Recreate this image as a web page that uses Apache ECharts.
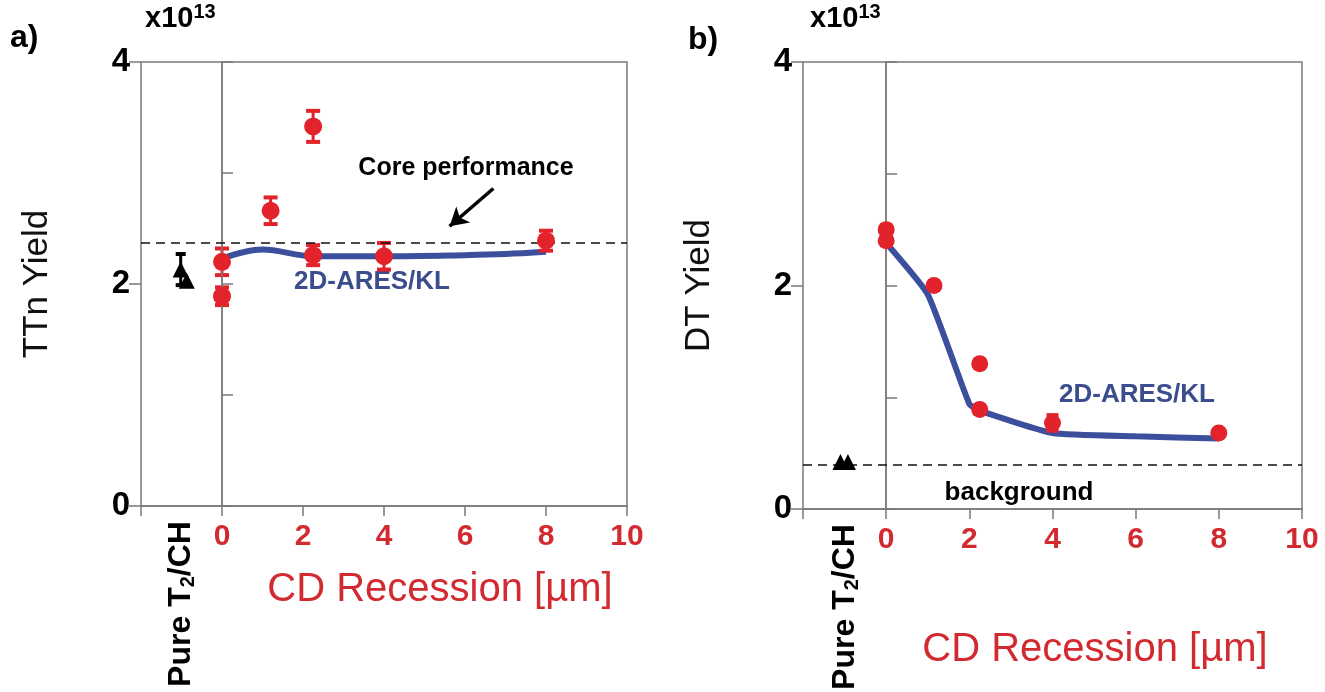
<!DOCTYPE html>
<html>
<head>
<meta charset="utf-8">
<script src="https://cdn.jsdelivr.net/npm/echarts@6/dist/echarts.min.js"></script>
<style>html,body{margin:0;padding:0;background:#fff}#c{width:1325px;height:692px}</style>
</head>
<body>
<div id="c"></div>
<script>
// ---------- data (yields in units of 1e13) ----------
const xTicks = [-2, 0, 2, 4, 6, 8, 10];
const yTicks = [0, 1, 2, 3, 4];

// panel a: TTn yield
const aRedX   = [0, 0, 1.2, 2.25, 2.25, 4, 8];
const aRedY   = [2.20, 1.89, 2.66, 3.42, 2.26, 2.25, 2.39];
const aRedErr = [0.12, 0.08, 0.12, 0.14, 0.09, 0.12, 0.09];
const aSimX   = [0, 1, 2.25, 4, 6, 7, 8];
const aSimY   = [2.23, 2.31, 2.25, 2.25, 2.26, 2.27, 2.29];
const aPureX  = [-1.02, -0.87];
const aPureY  = [2.13, 2.03];
const aPureErr = [0.14, 0.04];
const aCoreLevel = 2.37;
const aArrow = [[6.7, 2.86], [5.62, 2.52]];

// panel b: DT yield
const bRedX   = [0, 0, 1.15, 2.25, 2.25, 4, 8];
const bRedY   = [2.50, 2.40, 2.00, 1.30, 0.89, 0.77, 0.68];
const bRedErr = [0.04, 0.04, 0.04, 0.04, 0.04, 0.07, 0.03];
const bSimX   = [0, 1, 2.0, 2.25, 4, 6, 8];
const bSimY   = [2.38, 1.92, 0.94, 0.88, 0.68, 0.65, 0.63];
const bPureX  = [-1.1, -0.92];
const bPureY  = [0.42, 0.42];
const bBackground = 0.40;

// ---------- styling ----------
const RED = '#e3232b', RED_TXT = '#d22a30', BLUE = '#3b4f9c', BLUE_TXT = '#3b4d8e', GRAY = '#7a7a7a';
const FONT = '"Liberation Sans", Arial, sans-serif';

const chart = echarts.init(document.getElementById('c'), null, {renderer: 'canvas'});

function zip(xs, ys) { return xs.map((x, i) => [x, ys[i]]); }

function errSeries(xs, ys, es, color, gi, capW) {
  return {
    type: 'custom', xAxisIndex: gi, yAxisIndex: gi * 2, z: 4, silent: true,
    data: xs.map((x, i) => [x, ys[i] - es[i], ys[i] + es[i]]),
    encode: {x: 0, y: [1, 2]},
    renderItem(params, api) {
      const x = api.value(0);
      const lo = api.coord([x, api.value(1)]);
      const hi = api.coord([x, api.value(2)]);
      const w = capW;
      return {type: 'group', children: [
        {type: 'line', shape: {x1: lo[0], y1: lo[1], x2: hi[0], y2: hi[1]}, style: {stroke: color, lineWidth: 3}},
        {type: 'line', shape: {x1: lo[0] - w, y1: lo[1], x2: lo[0] + w, y2: lo[1]}, style: {stroke: color, lineWidth: 4}},
        {type: 'line', shape: {x1: hi[0] - w, y1: hi[1], x2: hi[0] + w, y2: hi[1]}, style: {stroke: color, lineWidth: 4}}
      ]};
    }
  };
}

function xAxisDef(gi) {
  return {
    type: 'value', gridIndex: gi, min: -2, max: 10, interval: 2,
    axisLine: {show: true, lineStyle: {color: GRAY, width: 1.5}},
    axisTick: {show: true, inside: false, length: 10, lineStyle: {color: GRAY, width: 1.5}},
    splitLine: {show: false},
    axisLabel: {
      margin: 16, color: RED_TXT, fontSize: 30, fontWeight: 'bold', fontFamily: FONT,
      formatter: v => (v < 0 ? '' : String(v))
    }
  };
}

function yAxesDef(gi, name) {
  return [{
    type: 'value', gridIndex: gi, min: 0, max: 4, interval: 1,
    name: name, nameLocation: 'middle', nameGap: 86,
    nameTextStyle: {fontSize: 35, color: '#111', fontFamily: FONT},
    axisLine: {show: true, lineStyle: {color: GRAY, width: 1.5}},
    axisTick: {show: true, inside: true, length: 11, lineStyle: {color: GRAY, width: 1.5}},
    splitLine: {show: false},
    axisLabel: {
      margin: 11, color: '#000', fontSize: 33, fontWeight: 'bold', fontFamily: FONT,
      formatter: v => (v % 2 === 0 ? String(v) : '')
    }
  }, {
    type: 'value', gridIndex: gi, min: 0, max: 4, interval: 2, position: 'left',
    axisLine: {show: false},
    axisTick: {show: true, inside: false, length: 12, lineStyle: {color: GRAY, width: 1.5}},
    splitLine: {show: false}, axisLabel: {show: false}
  }];
}

const supRich = {s: {fontSize: 20, fontWeight: 'bold', fontFamily: FONT, padding: [0, 0, 14, 0], fill: '#000'}};
const subRich = {sub: {fontSize: 20, fontWeight: 'bold', fontFamily: FONT, padding: [14, 0, 0, 0], fill: '#000'}};

const option = {
  animation: false,
  backgroundColor: '#fff',
  grid: [
    {left: 141, top: 62, width: 486, height: 444, show: true, borderColor: GRAY, borderWidth: 1.5, backgroundColor: 'transparent'},
    {left: 803, top: 62, width: 499, height: 447, show: true, borderColor: GRAY, borderWidth: 1.5, backgroundColor: 'transparent'}
  ],
  xAxis: [xAxisDef(0), xAxisDef(1)],
  yAxis: [...yAxesDef(0, 'TTn Yield'), ...yAxesDef(1, 'DT Yield')],
  series: [
    // ---- panel a ----
    {
      type: 'line', xAxisIndex: 0, yAxisIndex: 0, data: zip(aSimX, aSimY), smooth: 0.35,
      symbol: 'none', lineStyle: {color: BLUE, width: 6}, z: 3,
      markLine: {
        silent: true, symbol: ['none', 'none'], label: {show: false},
        data: [
          {xAxis: 0, lineStyle: {color: GRAY, width: 1.5, type: 'solid'}},
          {yAxis: aCoreLevel, lineStyle: {color: '#111', width: 1.5, type: [9, 6]}},
          [{coord: aArrow[0], symbol: 'none', lineStyle: {color: '#000', width: 3.5, type: 'solid'}},
           {coord: aArrow[1], symbol: 'arrow', symbolSize: [16, 18]}]
        ]
      }
    },
    errSeries(aRedX, aRedY, aRedErr, RED, 0, 7),
    {type: 'scatter', xAxisIndex: 0, yAxisIndex: 0, data: zip(aRedX, aRedY), symbol: 'circle', symbolSize: 18,
     itemStyle: {color: RED, opacity: 1}, z: 5},
    errSeries(aPureX.slice(0, 1), aPureY.slice(0, 1), aPureErr.slice(0, 1), '#000', 0, 5),
    {type: 'scatter', xAxisIndex: 0, yAxisIndex: 0, data: zip(aPureX, aPureY), symbol: 'triangle', symbolSize: 16,
     itemStyle: {color: '#000', opacity: 1}, z: 5},
    // ---- panel b ----
    {
      type: 'line', xAxisIndex: 1, yAxisIndex: 2, data: zip(bSimX, bSimY), smooth: 0.15,
      symbol: 'none', lineStyle: {color: BLUE, width: 6}, z: 3,
      markLine: {
        silent: true, symbol: ['none', 'none'], label: {show: false},
        data: [
          {xAxis: 0, lineStyle: {color: GRAY, width: 1.5, type: 'solid'}},
          {yAxis: bBackground, lineStyle: {color: '#111', width: 1.5, type: [9, 6]}}
        ]
      }
    },
    errSeries(bRedX, bRedY, bRedErr, RED, 1, 6),
    {type: 'scatter', xAxisIndex: 1, yAxisIndex: 2, data: zip(bRedX, bRedY), symbol: 'circle', symbolSize: 17,
     itemStyle: {color: RED, opacity: 1}, z: 5},
    {type: 'scatter', xAxisIndex: 1, yAxisIndex: 2, data: zip(bPureX, bPureY), symbol: 'triangle', symbolSize: 16,
     itemStyle: {color: '#000', opacity: 1}, z: 5}
  ],
  graphic: [
    {type: 'text', left: 10, top: 22, style: {text: 'a)', font: 'bold 32px ' + FONT, fill: '#000'}},
    {type: 'text', left: 688, top: 24, style: {text: 'b)', font: 'bold 32px ' + FONT, fill: '#000'}},
    {type: 'text', left: 145, top: 2, style: {text: 'x10{s|13}', font: 'bold 29px ' + FONT, fill: '#000', rich: supRich}},
    {type: 'text', left: 810, top: 2, style: {text: 'x10{s|13}', font: 'bold 29px ' + FONT, fill: '#000', rich: supRich}},
    {type: 'text', x: 440, y: 590, style: {text: 'CD Recession [\u00b5m]', font: '40px ' + FONT, fill: RED_TXT, align: 'center', verticalAlign: 'middle'}},
    {type: 'text', x: 1095, y: 650, style: {text: 'CD Recession [\u00b5m]', font: '40px ' + FONT, fill: RED_TXT, align: 'center', verticalAlign: 'middle'}},
    {type: 'text', x: 181, y: 604, rotation: Math.PI / 2, style: {
      text: 'Pure T{sub|2}/CH', font: 'bold 32px ' + FONT, fill: '#000', align: 'center', verticalAlign: 'middle', rich: subRich}},
    {type: 'text', x: 845, y: 607, rotation: Math.PI / 2, style: {
      text: 'Pure T{sub|2}/CH', font: 'bold 32px ' + FONT, fill: '#000', align: 'center', verticalAlign: 'middle', rich: subRich}},
    {type: 'text', x: 466, y: 168, style: {text: 'Core performance', font: 'bold 25px ' + FONT, fill: '#000', align: 'center', verticalAlign: 'middle'}},
    {type: 'text', x: 372, y: 282, style: {text: '2D-ARES/KL', font: 'bold 26px ' + FONT, fill: BLUE_TXT, align: 'center', verticalAlign: 'middle'}},
    {type: 'text', x: 1137, y: 395, style: {text: '2D-ARES/KL', font: 'bold 26px ' + FONT, fill: BLUE_TXT, align: 'center', verticalAlign: 'middle'}},
    {type: 'text', x: 1019, y: 493, style: {text: 'background', font: 'bold 26px ' + FONT, fill: '#000', align: 'center', verticalAlign: 'middle'}}
  ]
};
chart.setOption(option);
</script>
</body>
</html>
